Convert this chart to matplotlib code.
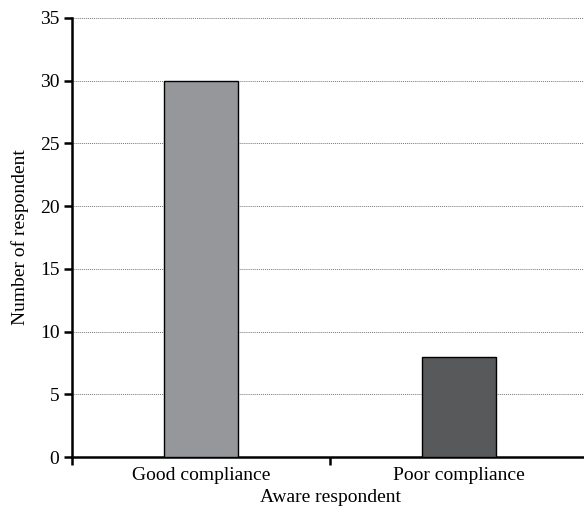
import matplotlib
matplotlib.use("Agg")
import matplotlib.pyplot as plt

categories = ["Good compliance", "Poor compliance"]
values = [30, 8]
colors = ["#96979b", "#58595b"]
yticks = [0, 5, 10, 15, 20, 25, 30, 35]

plt.rcParams['font.family'] = ['Liberation Serif', 'DejaVu Serif']

fig = plt.figure(figsize=(5.84, 5.09), dpi=100)
ax = fig.add_axes([72/584, (509-457)/509, (588-72)/584, (457-18)/509])

x = list(range(len(categories)))
ax.bar(x, values, width=0.29, color=colors, edgecolor="black", linewidth=1.0, zorder=3)

ax.set_xlim(-0.5, 1.5)
ax.set_ylim(0, 35)
ax.set_yticks(yticks)
ax.yaxis.grid(True, linestyle=(0, (1, 1)), color="#777777", linewidth=0.7, zorder=0)
ax.set_xticks([-0.5, 0.5])
ax.set_xticklabels([])
ax.set_xticks(x, minor=True)
ax.set_xticklabels(categories, minor=True, fontsize=14)
ax.tick_params(axis='x', which='minor', length=0, pad=7)
ax.tick_params(axis='x', which='major', length=6, width=1.8, direction='out')
ax.tick_params(axis='y', length=6, width=1.8, labelsize=14, direction='out', pad=3)

for s in ["top", "right"]:
    ax.spines[s].set_visible(False)
for s in ["left", "bottom"]:
    ax.spines[s].set_linewidth(1.8)

ax.set_ylabel("Number of respondent", fontsize=14, labelpad=8)
ax.set_xlabel("Aware respondent", fontsize=14, labelpad=4)

fig.savefig("out.png", dpi=100)
